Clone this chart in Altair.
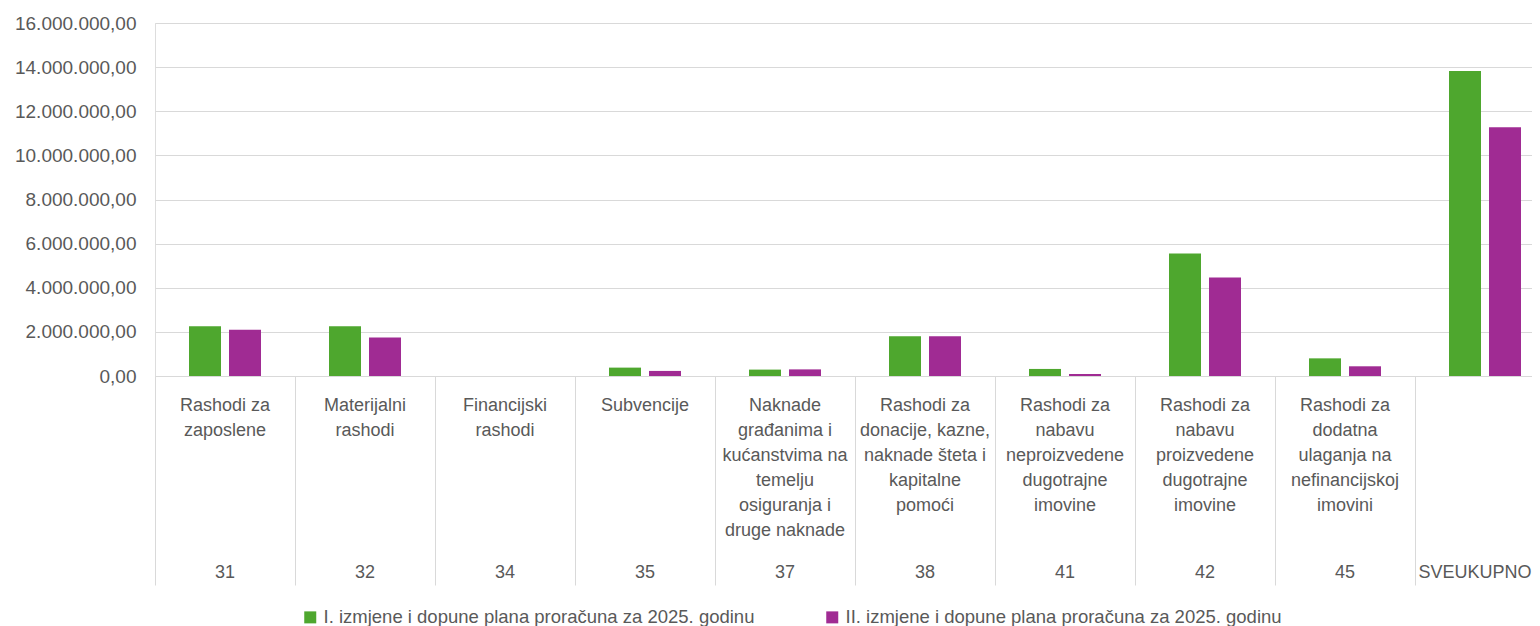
import altair as alt
import pandas as pd

codes = ["31", "32", "34", "35", "37", "38", "41", "42", "45", "SVEUKUPNO"]
descriptions = [
    "Rashodi za\nzaposlene",
    "Materijalni\nrashodi",
    "Financijski\nrashodi",
    "Subvencije",
    "Naknade\ngrađanima i\nkućanstvima na\ntemelju\nosiguranja i\ndruge naknade",
    "Rashodi za\ndonacije, kazne,\nnaknade šteta i\nkapitalne\npomoći",
    "Rashodi za\nnabavu\nneproizvedene\ndugotrajne\nimovine",
    "Rashodi za\nnabavu\nproizvedene\ndugotrajne\nimovine",
    "Rashodi za\ndodatna\nulaganja na\nnefinancijskoj\nimovini",
    "",
]
series_names = [
    "I. izmjene i dopune plana proračuna za 2025. godinu",
    "II. izmjene i dopune plana proračuna za 2025. godinu",
]
values_I = [2250000, 2250000, 0, 380000, 290000, 1800000, 320000, 5550000, 800000, 13820000]
values_II = [2100000, 1740000, 0, 230000, 300000, 1800000, 90000, 4460000, 440000, 11280000]
y_ticks = [0, 2000000, 4000000, 6000000, 8000000, 10000000, 12000000, 14000000, 16000000]
colors = ["#4EA72E", "#A02B93"]

rows = []
for c, a, b in zip(codes, values_I, values_II):
    rows.append({"cat": c, "series": series_names[0], "value": a})
    rows.append({"cat": c, "series": series_names[1], "value": b})
bars_df = pd.DataFrame(rows)
labels_df = pd.DataFrame({"cat": codes, "desc": descriptions, "code": codes})

FONT = "Liberation Sans"
TXT = "#595959"
GRID = "#D9D9D9"

x_scale = alt.Scale(domain=codes, paddingInner=0, paddingOuter=0)

bars = alt.Chart(bars_df).mark_bar().encode(
    x=alt.X("cat:N", sort=codes, scale=x_scale,
            axis=alt.Axis(title=None, labels=False, tickBand="extent", tickSize=209,
                          tickColor=GRID, domainColor=GRID, tickWidth=1)),
    xOffset=alt.XOffset("series:N", sort=series_names,
                        scale=alt.Scale(domain=series_names, paddingInner=0.2, paddingOuter=0.85)),
    y=alt.Y("value:Q", scale=alt.Scale(domain=[0, 16000000], nice=False),
            axis=alt.Axis(title=None, values=y_ticks, format=",.2f", ticks=False, domain=False,
                          gridColor=GRID, labelPadding=19, labelFontSize=19,
                          labelColor=TXT, labelFont=FONT)),
    color=alt.Color("series:N", sort=series_names,
                    scale=alt.Scale(domain=series_names, range=colors),
                    legend=alt.Legend(title=None, orient="none", legendX=146, legendY=585,
                                      direction="horizontal", symbolType="square",
                                      symbolSize=144, symbolStrokeWidth=0,
                                      labelFontSize=18.5, labelFont=FONT, labelColor=TXT,
                                      labelLimit=1000, columnPadding=68, labelOffset=4)),
)

desc_text = alt.Chart(labels_df).mark_text(
    baseline="top", align="center", fontSize=18, font=FONT, color=TXT,
    lineBreak="\n", lineHeight=25,
).encode(
    x=alt.X("cat:N", sort=codes, scale=x_scale),
    y=alt.value(374),
    text="desc:N",
)

code_text = alt.Chart(labels_df).transform_filter(
    alt.datum.code != "SVEUKUPNO"
).mark_text(
    baseline="middle", align="center", fontSize=18, font=FONT, color=TXT,
).encode(
    x=alt.X("cat:N", sort=codes, scale=x_scale),
    y=alt.value(550),
    text="code:N",
)

total_text = alt.Chart(labels_df).transform_filter(
    alt.datum.code == "SVEUKUPNO"
).mark_text(
    baseline="middle", align="center", fontSize=18, font=FONT, color=TXT, dx=-10,
).encode(
    x=alt.X("cat:N", sort=codes, scale=x_scale),
    y=alt.value(550),
    text="code:N",
)

chart = alt.layer(bars, desc_text, code_text, total_text).properties(
    width=1400, height=353,
    autosize=alt.AutoSizeParams(type="none"),
    padding={"left": 147, "top": 15, "right": -23, "bottom": 250},
).configure_view(strokeWidth=0).configure(
    locale={"number": {"decimal": ",", "thousands": ".", "grouping": [3], "currency": ["", ""]}}
)

chart.save("out.html", embed_options={"renderer": "svg", "actions": False})
